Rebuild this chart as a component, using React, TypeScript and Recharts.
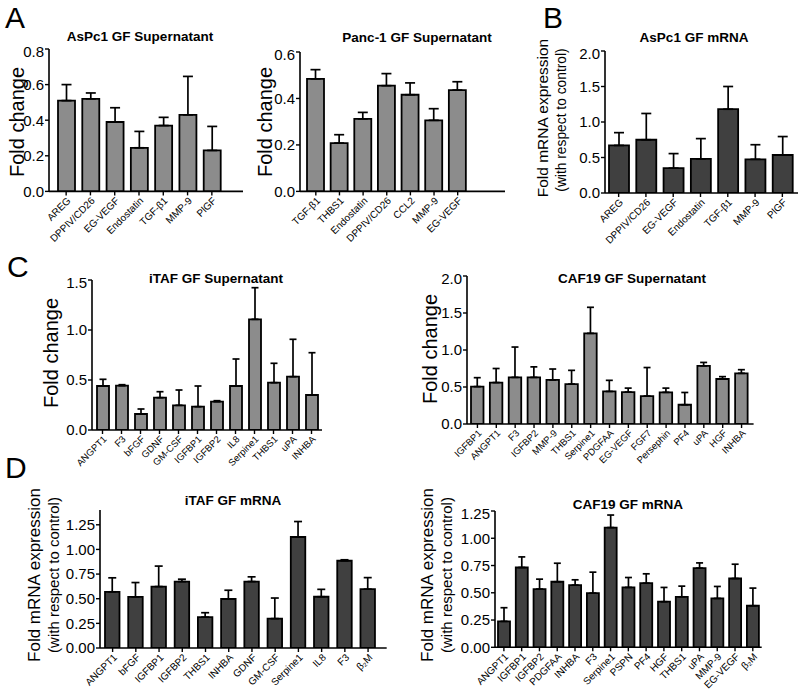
import { Bar, BarChart, ErrorBar, XAxis, YAxis } from "recharts";

const FONT = '"Liberation Sans", Arial, Helvetica, sans-serif';
const LIGHT = "#8c8c8c";
const DARK = "#404040";

// A – AsPc1 GF supernatant
const aspcSupCats = ["AREG", "DPPIV/CD26", "EG-VEGF", "Endostatin", "TGF-β1", "MMP-9", "PlGF"];
const aspcSupMean = [0.51, 0.52, 0.39, 0.245, 0.37, 0.43, 0.23];
const aspcSupSem = [0.09, 0.033, 0.08, 0.092, 0.046, 0.216, 0.135];

// A – Panc-1 GF supernatant
const pancSupCats = ["TGF-β1", "THBS1", "Endostatin", "DPPIV/CD26", "CCL2", "MMP-9", "EG-VEGF"];
const pancSupMean = [0.484, 0.208, 0.312, 0.455, 0.416, 0.306, 0.436];
const pancSupSem = [0.04, 0.036, 0.028, 0.052, 0.051, 0.05, 0.036];

// B – AsPc1 GF mRNA
const aspcMrnaCats = ["AREG", "DPPIV/CD26", "EG-VEGF", "Endostatin", "TGF-β1", "MMP-9", "PlGF"];
const aspcMrnaMean = [0.67, 0.75, 0.35, 0.48, 1.18, 0.475, 0.535];
const aspcMrnaSem = [0.18, 0.37, 0.205, 0.286, 0.32, 0.205, 0.26];

// C – iTAF GF supernatant
const itafSupCats = ["ANGPT1", "F3", "bFGF", "GDNF", "GM-CSF", "IGFBP1", "IGFBP2", "IL8", "Serpine1", "THBS1", "uPA", "INHBA"];
const itafSupMean = [0.44, 0.443, 0.16, 0.323, 0.247, 0.233, 0.283, 0.44, 1.107, 0.473, 0.533, 0.35];
const itafSupSem = [0.067, 0.01, 0.05, 0.06, 0.153, 0.207, 0.01, 0.27, 0.316, 0.194, 0.374, 0.423];

// C – CAF19 GF supernatant
const cafSupCats = ["IGFBP1", "ANGPT1", "F3", "IGFBP2", "MMP-9", "THBS1", "Serpine1", "PDGFAA", "EG-VEGF", "FGF7", "Persephin", "PF4", "uPA", "HGF", "INHBA"];
const cafSupMean = [0.505, 0.56, 0.63, 0.63, 0.595, 0.54, 1.225, 0.44, 0.432, 0.378, 0.428, 0.26, 0.785, 0.608, 0.685];
const cafSupSem = [0.121, 0.19, 0.41, 0.142, 0.148, 0.185, 0.352, 0.15, 0.053, 0.385, 0.057, 0.166, 0.047, 0.032, 0.049];

// D – iTAF GF mRNA
const itafMrnaCats = ["ANGPT1", "bFGF", "IGFBP1", "IGFBP2", "THBS1", "INHBA", "GDNF", "GM-CSF", "Serpine1", "IL8", "F3", "β₂M"];
const itafMrnaMean = [0.57, 0.518, 0.623, 0.674, 0.313, 0.497, 0.674, 0.298, 1.126, 0.52, 0.885, 0.597];
const itafMrnaSem = [0.142, 0.146, 0.208, 0.024, 0.045, 0.089, 0.048, 0.209, 0.157, 0.075, 0.01, 0.117];

// D – CAF19 GF mRNA
const cafMrnaCats = ["ANGPT1", "IGFBP1", "IGFBP2", "PDGFAA", "INHBA", "F3", "Serpine1", "PSPN", "PF4", "HGF", "THBS1", "uPA", "MMP-9", "EG-VEGF", "β₂M"];
const cafMrnaMean = [0.238, 0.732, 0.534, 0.601, 0.57, 0.497, 1.098, 0.549, 0.588, 0.418, 0.463, 0.726, 0.448, 0.631, 0.381];
const cafMrnaSem = [0.125, 0.097, 0.091, 0.17, 0.049, 0.192, 0.115, 0.091, 0.086, 0.131, 0.098, 0.048, 0.11, 0.131, 0.162];

const ticksA = [0, 0.2, 0.4, 0.6, 0.8];
const ticksA2 = [0, 0.2, 0.4, 0.6];
const ticksHalf15 = [0, 0.5, 1, 1.5];
const ticksHalf2 = [0, 0.5, 1, 1.5, 2];
const ticksQuarter = [0, 0.25, 0.5, 0.75, 1, 1.25];

type PanelProps = {
  cats: string[];
  mean: number[];
  sem: number[];
  x0: number;
  x1: number;
  yTop: number;
  yBot: number;
  max: number;
  ticks: number[];
  digits: number;
  padL?: number;
  padR?: number;
  barSize: number;
  cap: number;
  fill: string;
  xFont?: number;
};

function Panel(p: PanelProps) {
  const data = p.cats.map((c, i) => ({ name: c, v: p.mean[i], err: [0, p.sem[i]] }));
  const yw = 50;
  const mt = 6;
  const mr = 6;
  const xh = 70;
  const w = yw + (p.x1 - p.x0) + mr;
  const h = mt + (p.yBot - p.yTop) + xh;
  return (
    <div style={{ position: "absolute", left: p.x0 - yw, top: p.yTop - mt }}>
      <BarChart width={w} height={h} data={data} margin={{ top: mt, right: mr, bottom: 0, left: 0 }}>
        <XAxis
          dataKey="name"
          interval={0}
          angle={-45}
          textAnchor="end"
          height={xh}
          padding={{ left: p.padL ?? 0, right: p.padR ?? 0 }}
          tickSize={4}
          tickMargin={1}
          tick={{ fontSize: p.xFont ?? 10, fill: "#000", fontFamily: FONT }}
          axisLine={{ stroke: "#000", strokeWidth: 1.6 }}
          tickLine={{ stroke: "#000", strokeWidth: 1.4 }}
        />
        <YAxis
          width={yw}
          domain={[0, p.max]}
          ticks={p.ticks}
          allowDataOverflow
          tickFormatter={(v: number) => v.toFixed(p.digits)}
          tickSize={4}
          tickMargin={1}
          tick={{ fontSize: 15, fill: "#000", fontFamily: FONT }}
          axisLine={{ stroke: "#000", strokeWidth: 1.6 }}
          tickLine={{ stroke: "#000", strokeWidth: 1.4 }}
        />
        <Bar dataKey="v" fill={p.fill} stroke="#000" strokeWidth={1.8} barSize={p.barSize} isAnimationActive={false}>
          <ErrorBar dataKey="err" direction="y" width={p.cap} stroke="#000" strokeWidth={1.7} />
        </Bar>
      </BarChart>
    </div>
  );
}

function VLabel({ x, y, size, text }: { x: number; y: number; size: number; text: string }) {
  return (
    <text
      x={x}
      y={y}
      fontSize={size}
      textAnchor="middle"
      dominantBaseline="central"
      transform={`rotate(-90, ${x}, ${y})`}
    >
      {text}
    </text>
  );
}

export default function App() {
  return (
    <div style={{ position: "fixed", left: 0, top: 0, width: 800, height: 694, background: "#fff", fontFamily: FONT }}>
      <Panel cats={aspcSupCats} mean={aspcSupMean} sem={aspcSupSem} x0={49} x1={243} yTop={49.3} yBot={191.7}
        max={0.8} ticks={ticksA} digits={1} padL={5} padR={19} barSize={17} cap={5} fill={LIGHT} />
      <Panel cats={pancSupCats} mean={pancSupMean} sem={pancSupSem} x0={300} x1={505} yTop={52.3} yBot={191.7}
        max={0.6} ticks={ticksA2} digits={1} padL={4} padR={35.5} barSize={17} cap={5} fill={LIGHT} />
      <Panel cats={aspcMrnaCats} mean={aspcMrnaMean} sem={aspcMrnaSem} x0={605} x1={798} yTop={50.7} yBot={192.7}
        max={2} ticks={ticksHalf2} digits={1} padL={0} padR={2} barSize={20} cap={5} fill={DARK} />
      <Panel cats={itafSupCats} mean={itafSupMean} sem={itafSupSem} x0={91.7} x1={321.7} yTop={280} yBot={430}
        max={1.5} ticks={ticksHalf15} digits={1} padL={1} padR={1} barSize={12} cap={3.5} fill={LIGHT} xFont={9.5} />
      <Panel cats={cafSupCats} mean={cafSupMean} sem={cafSupSem} x0={466.7} x1={753.3} yTop={276} yBot={424}
        max={2} ticks={ticksHalf2} digits={1} padL={1} padR={2.6} barSize={12.5} cap={3.5} fill={LIGHT} xFont={9.5} />
      <Panel cats={itafMrnaCats} mean={itafMrnaMean} sem={itafMrnaSem} x0={100} x1={386.7} yTop={509.5} yBot={647.5}
        max={1.4} ticks={ticksQuarter} digits={2} padL={1} padR={7} barSize={14.5} cap={4} fill={DARK} />
      <Panel cats={cafMrnaCats} mean={cafMrnaMean} sem={cafMrnaSem} x0={495} x1={761.7} yTop={510.7} yBot={647}
        max={1.25} ticks={ticksQuarter} digits={2} padL={0} padR={0} barSize={12} cap={3.5} fill={DARK} />

      <svg width={800} height={694} style={{ position: "absolute", left: 0, top: 0, pointerEvents: "none" }} fontFamily={FONT} fill="#000">
        <g fontSize={30}>
          <text x={5} y={28}>A</text>
          <text x={543} y={28}>B</text>
          <text x={7} y={277}>C</text>
          <text x={5} y={478}>D</text>
        </g>
        <g fontSize={13.5} fontWeight="bold" textAnchor="middle">
          <text x={140} y={41}>AsPc1 GF Supernatant</text>
          <text x={417} y={42}>Panc-1 GF Supernatant</text>
          <text x={694} y={42}>AsPc1 GF mRNA</text>
          <text x={216} y={283}>iTAF GF Supernatant</text>
          <text x={632} y={283}>CAF19 GF Supernatant</text>
          <text x={233} y={505}>iTAF GF mRNA</text>
          <text x={628} y={509}>CAF19 GF mRNA</text>
        </g>
        <VLabel x={17} y={122} size={20} text="Fold change" />
        <VLabel x={265} y={122} size={20} text="Fold change" />
        <VLabel x={542.5} y={118} size={15.5} text="Fold mRNA expression" />
        <VLabel x={561} y={120} size={13.8} text="(with respect to control)" />
        <VLabel x={51} y={353} size={20} text="Fold change" />
        <VLabel x={429.5} y={349} size={20} text="Fold change" />
        <VLabel x={34} y={575} size={17} text="Fold mRNA expression" />
        <VLabel x={53.5} y={575} size={15} text="(with respect to control)" />
        <VLabel x={427.5} y={575} size={17} text="Fold mRNA expression" />
        <VLabel x={446.5} y={575} size={15} text="(with respect to control)" />
      </svg>
    </div>
  );
}
